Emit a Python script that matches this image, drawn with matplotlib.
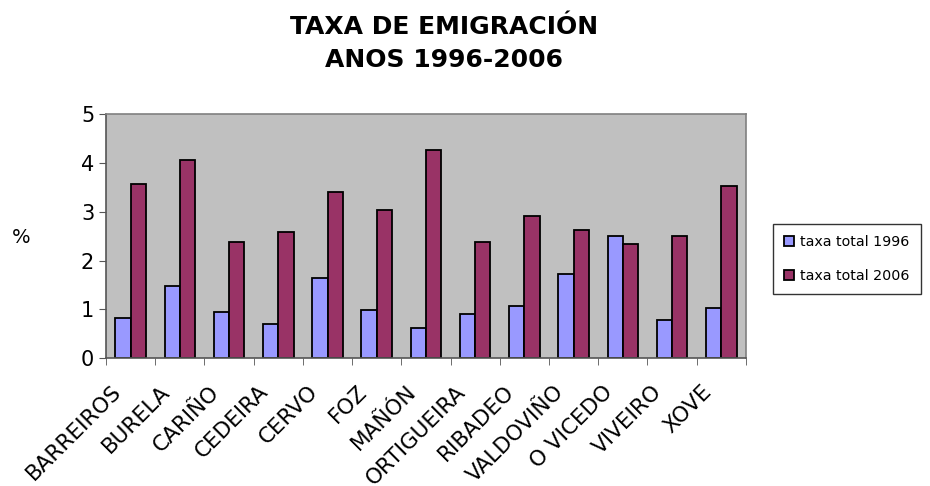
import numpy as np
import matplotlib.pyplot as plt
import matplotlib.transforms as mtransforms
from matplotlib.ticker import FixedLocator

# Data
concellos = ['BARREIROS', 'BURELA', 'CARIÑO', 'CEDEIRA', 'CERVO', 'FOZ', 'MAÑÓN',
             'ORTIGUEIRA', 'RIBADEO', 'VALDOVIÑO', 'O VICEDO', 'VIVEIRO', 'XOVE']
taxa_1996 = [0.82, 1.48, 0.95, 0.70, 1.64, 0.98, 0.62, 0.90, 1.07, 1.72, 2.50, 0.79, 1.03]
taxa_2006 = [3.57, 4.06, 2.38, 2.59, 3.41, 3.04, 4.27, 2.38, 2.92, 2.63, 2.34, 2.50, 3.53]

fig = plt.figure(figsize=(9.3, 4.86), dpi=100)
ax = fig.add_axes([0.114, 0.263, 0.688, 0.502])

x = np.arange(len(concellos))
w = 0.31
ax.bar(x - w / 2, taxa_1996, w, color='#9999FF', edgecolor='black', linewidth=1.3,
       label='taxa total 1996')
ax.bar(x + w / 2, taxa_2006, w, color='#993366', edgecolor='black', linewidth=1.3,
       label='taxa total 2006')

ax.set_facecolor('#C0C0C0')
ax.set_xlim(-0.5, len(concellos) - 0.5)
ax.set_ylim(0, 5)
ax.set_yticks(range(6))
ax.tick_params(axis='y', labelsize=15, length=5, color='#555555', direction='out')

ax.set_xticks(x)
ax.set_xticklabels(concellos, rotation=45, ha='right', va='center', rotation_mode='anchor',
                   fontsize=15.5)
ax.tick_params(axis='x', which='major', length=0, pad=22)
shift = mtransforms.ScaledTranslation(-0.13, 0, fig.dpi_scale_trans)
for lbl in ax.get_xticklabels():
    lbl.set_transform(lbl.get_transform() + shift)
ax.xaxis.set_minor_locator(FixedLocator(np.arange(-0.5, len(concellos), 1)))
ax.tick_params(axis='x', which='minor', length=5, color='#555555', direction='out')

for s in ['top', 'right']:
    ax.spines[s].set_color('#808080')
    ax.spines[s].set_linewidth(1.2)
for s in ['left', 'bottom']:
    ax.spines[s].set_color('#555555')
    ax.spines[s].set_linewidth(1.2)

fig.text(0.023, 0.512, '%', fontsize=14, ha='center', va='center')

fig.suptitle('TAXA DE EMIGRACIÓN\nANOS 1996-2006', x=0.477, y=0.97,
             fontsize=18, fontweight='bold', linespacing=1.5)

leg = ax.legend(loc='center left', bbox_to_anchor=(0.831, 0.467), bbox_transform=fig.transFigure,
                fontsize=10.3, frameon=True, fancybox=False, edgecolor='black',
                handlelength=0.7, handleheight=0.7, handletextpad=0.4, labelspacing=1.4,
                borderpad=0.8, borderaxespad=0)
leg.get_frame().set_linewidth(1.0)

fig.savefig('out.png', dpi=100)
